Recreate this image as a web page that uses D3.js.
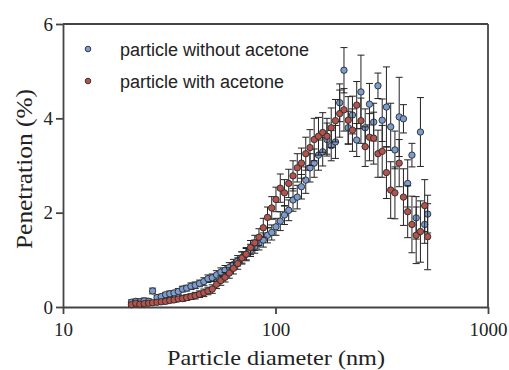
<!DOCTYPE html>
<html>
<head>
<meta charset="utf-8">
<script src="https://cdn.jsdelivr.net/npm/d3@7"></script>
<style>
  body { margin: 0; background: #fff; }
  svg { display: block; }
</style>
</head>
<body>
<svg id="chart" width="509" height="370"></svg>
<script>
// particle diameter channels (nm)
const diameters = [
  21.0, 22.0, 23.0, 24.1, 25.3, 26.4, 27.7, 29.0, 30.4, 31.8,
  33.3, 34.9, 36.5, 38.2, 40.0, 41.9, 43.9, 46.0, 48.1, 50.4,
  52.8, 55.3, 57.9, 60.6, 63.4, 66.4, 69.5, 72.8, 76.3, 79.9,
  83.6, 87.6, 91.7, 96.0, 100.5, 105.3, 110.2, 115.4, 120.9, 126.6,
  132.5, 138.8, 145.3, 152.1, 159.3, 166.8, 174.7, 182.9, 191.5, 200.5,
  210.0, 219.9, 230.2, 241.1, 252.4, 264.3, 276.8, 289.8, 303.5, 317.8,
  332.7, 348.4, 364.8, 382.0, 400.0, 418.8, 438.6, 459.2, 480.9, 503.5, 520.0
];

// penetration (%) - particle without acetone
const withoutAcetone = [
  0.10, 0.12, 0.11, 0.13, 0.12, 0.34, 0.20, 0.22, 0.26, 0.28,
  0.30, 0.33, 0.38, 0.40, 0.44, 0.46, 0.50, 0.54, 0.60, 0.62,
  0.68, 0.74, 0.78, 0.84, 0.90, 0.98, 1.05, 1.12, 1.20, 1.28,
  1.35, 1.42, 1.52, 1.58, 1.70, 1.82, 1.95, 2.05, 2.27, 2.33,
  2.55, 2.69, 2.95, 3.05, 3.22, 3.29, 3.55, 3.42, 3.50, 4.33,
  5.02, 3.80, 4.07, 3.54, 4.56, 3.80, 4.30, 3.92, 4.69, 3.96,
  4.24, 3.82, 3.33, 4.03, 3.99, 2.62, 3.22, 1.89, 3.71, 1.75, 1.97
];
const withoutAcetoneErr = [
  0.05, 0.05, 0.06, 0.06, 0.05, 0.06, 0.05, 0.05, 0.05, 0.06,
  0.05, 0.06, 0.06, 0.06, 0.07, 0.07, 0.07, 0.08, 0.08, 0.08,
  0.09, 0.09, 0.10, 0.10, 0.11, 0.11, 0.12, 0.12, 0.13, 0.14,
  0.14, 0.15, 0.16, 0.16, 0.18, 0.20, 0.20, 0.22, 0.24, 0.25,
  0.26, 0.28, 0.30, 0.30, 0.32, 0.30, 0.35, 0.32, 0.35, 0.40,
  0.48, 0.35, 0.40, 0.35, 0.78, 0.40, 0.44, 0.40, 0.27, 0.45,
  0.85, 0.50, 0.40, 0.84, 0.30, 0.50, 0.25, 0.45, 0.73, 0.40, 0.40
];

// penetration (%) - particle with acetone
const withAcetone = [
  0.05, 0.08, 0.06, 0.07, 0.08, 0.09, 0.10, 0.11, 0.12, 0.14,
  0.15, 0.17, 0.18, 0.20, 0.22, 0.24, 0.27, 0.30, 0.34, 0.38,
  0.48, 0.56, 0.63, 0.72, 0.82, 0.92, 1.04, 1.12, 1.26, 1.36,
  1.48, 1.68, 1.90, 2.10, 2.28, 2.52, 2.42, 2.62, 2.78, 2.95,
  3.05, 3.25, 3.38, 3.55, 3.62, 3.70, 3.62, 3.80, 3.95, 4.10,
  4.18, 3.96, 3.75, 4.28, 3.95, 3.40, 3.60, 3.58, 3.25, 3.30,
  2.85, 2.48, 2.42, 3.05, 2.33, 2.02, 1.75, 1.52, 1.60, 2.15, 1.49
];
const withAcetoneErr = [
  0.04, 0.05, 0.04, 0.04, 0.04, 0.04, 0.05, 0.05, 0.05, 0.05,
  0.05, 0.05, 0.06, 0.06, 0.06, 0.07, 0.07, 0.08, 0.08, 0.09,
  0.09, 0.10, 0.10, 0.11, 0.12, 0.12, 0.13, 0.14, 0.15, 0.16,
  0.18, 0.20, 0.22, 0.24, 0.26, 0.30, 0.28, 0.30, 0.32, 0.30,
  0.32, 0.35, 0.38, 0.45, 0.40, 0.42, 0.38, 0.42, 0.45, 0.50,
  0.45, 0.50, 0.45, 0.50, 0.48, 0.42, 0.50, 0.55, 0.50, 0.55,
  0.55, 0.60, 0.55, 0.50, 0.60, 0.55, 0.60, 0.60, 0.65, 0.55, 0.70
];

const xTicks = [10, 100, 1000];
const yTicks = [0, 2, 4, 6];
const seriesNames = ["particle without acetone", "particle with acetone"];
const seriesColors = ["#7a9cd0", "#b4524c"];

const svg = d3.select("#chart");
const plotLeft = 63, plotRight = 488, plotTop = 24, plotBottom = 307;
const serif = "Liberation Serif, Times New Roman, Times, serif";
const sans = "Liberation Sans, Arial, sans-serif";

const x = d3.scaleLog().domain([10, 1000]).range([plotLeft, plotRight]);
const y = d3.scaleLinear().domain([0, 6]).range([plotBottom, plotTop]);

// x axis
const xAxis = svg.append("g")
  .attr("transform", "translate(0," + plotBottom + ")")
  .call(d3.axisBottom(x).tickValues(xTicks).tickFormat(d3.format("d"))
    .tickSize(7).tickSizeOuter(0).tickPadding(9));
xAxis.selectAll("text").style("font-family", serif).style("font-size", "19px").attr("fill", "#222");

// y axis
const yAxis = svg.append("g")
  .attr("transform", "translate(" + plotLeft + ",0)")
  .call(d3.axisLeft(y).tickValues(yTicks).tickFormat(d3.format("d"))
    .tickSize(7).tickSizeOuter(0).tickPadding(3));
yAxis.selectAll("text").style("font-family", serif).style("font-size", "19px").attr("fill", "#222");

svg.selectAll(".domain, .tick line").attr("stroke", "#444").attr("stroke-width", 1.8);

// top and right frame
svg.append("line").attr("x1", plotLeft).attr("x2", plotRight).attr("y1", plotTop).attr("y2", plotTop)
  .attr("stroke", "#444").attr("stroke-width", 1.8);
svg.append("line").attr("x1", plotRight).attr("x2", plotRight).attr("y1", plotTop).attr("y2", plotBottom)
  .attr("stroke", "#444").attr("stroke-width", 1.8);

// axis titles
svg.append("text")
  .attr("x", 276).attr("y", 365)
  .attr("text-anchor", "middle")
  .attr("textLength", 218).attr("lengthAdjust", "spacingAndGlyphs")
  .style("font-family", serif).style("font-size", "22px").attr("fill", "#222")
  .text("Particle diameter (nm)");

svg.append("text")
  .attr("transform", "translate(32,169) rotate(-90)")
  .attr("text-anchor", "middle")
  .attr("textLength", 160).attr("lengthAdjust", "spacingAndGlyphs")
  .style("font-family", serif).style("font-size", "23px").attr("fill", "#222")
  .text("Penetration (%)");

// series: error bars then markers
const series = [
  diameters.map((d, i) => ({ d: d, v: withoutAcetone[i], e: withoutAcetoneErr[i] })),
  diameters.map((d, i) => ({ d: d, v: withAcetone[i], e: withAcetoneErr[i] }))
];

series.forEach((data, k) => {
  const g = svg.append("g");
  const bars = g.selectAll(".err").data(data).enter().append("g")
    .attr("stroke", "#222").attr("stroke-width", 1);
  bars.append("line")
    .attr("x1", d => x(d.d)).attr("x2", d => x(d.d))
    .attr("y1", d => y(d.v - d.e)).attr("y2", d => y(d.v + d.e));
  bars.append("line")
    .attr("x1", d => x(d.d) - 3.5).attr("x2", d => x(d.d) + 3.5)
    .attr("y1", d => y(d.v + d.e)).attr("y2", d => y(d.v + d.e));
  bars.append("line")
    .attr("x1", d => x(d.d) - 3.5).attr("x2", d => x(d.d) + 3.5)
    .attr("y1", d => y(d.v - d.e)).attr("y2", d => y(d.v - d.e));

  g.selectAll("circle").data(data).enter().append("circle")
    .attr("cx", d => x(d.d)).attr("cy", d => y(d.v))
    .attr("r", 3.2)
    .attr("fill", seriesColors[k])
    .attr("stroke", "#2a2a2a").attr("stroke-width", 0.9);
});

// legend
const legend = svg.append("g");
seriesNames.forEach((name, k) => {
  legend.append("circle")
    .attr("cx", 88).attr("cy", 49 + k * 32).attr("r", 2.8)
    .attr("fill", seriesColors[k]).attr("stroke", "#2a2a2a").attr("stroke-width", 0.9);
  legend.append("text")
    .attr("x", 120).attr("y", 56 + k * 32)
    .style("font-family", sans).style("font-size", "18px").attr("fill", "#222")
    .text(name);
});
</script>
</body>
</html>
